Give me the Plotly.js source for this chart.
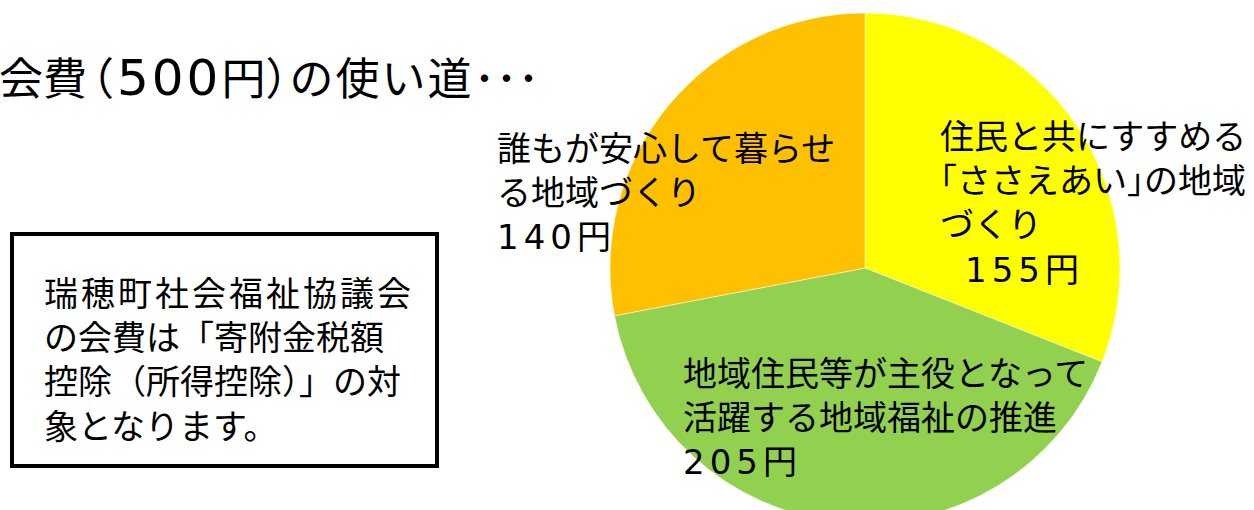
<!DOCTYPE html>
<html>
<head>
<meta charset="utf-8">
<script src="https://cdn.plot.ly/plotly-3.0.1.min.js"></script>
<style>
html,body{margin:0;padding:0;background:#fff;overflow:hidden;width:1254px;height:510px;}
#chart{width:1254px;height:540px;}
</style>
</head>
<body>
<div id="chart"></div>
<script>
const titleText = "会<span style='letter-spacing:-17px'>費</span><span style='letter-spacing:3px'>（</span><span style='font-family:DejaVu Sans;font-size:50px;letter-spacing:3px'>500</span>円<span style='letter-spacing:-20px'>）</span><span style='letter-spacing:2px'>の使い道</span>･･･";
const noteLines = [
  "<span style='letter-spacing:3px'>瑞穂町社会福祉協議会</span>",
  "の会費は「寄附金税額",
  "控除（所得控除）」の対",
  "象となります。"
];
const categories = [
  "住民と共にすすめる<br>｢ささえあい｣の地域<br>づくり",
  "地域住民等が主役となって<br>活躍する地域福祉の推進",
  "誰もが安心して暮らせ<br>る地域づくり"
];
const amounts = [155, 205, 140];
const unit = "円";
const sliceColors = ["#FFFF00", "#92D050", "#FFC000"];

const W = 1254, H = 540;
const px = x => x / W;
const py = y => 1 - y / H;
const FONT = "Noto Sans CJK JP, Noto Sans, sans-serif";
const money = v => "<span style='font-family:DejaVu Sans;font-size:34px;letter-spacing:5px'>" + v + "</span>" + unit;

const data = [{
  type: "pie",
  values: amounts,
  labels: categories,
  marker: {colors: sliceColors, line: {color: "#ffffff", width: 0.5}},
  sort: false,
  direction: "clockwise",
  rotation: 0,
  textinfo: "none",
  hoverinfo: "skip",
  showlegend: false,
  domain: {x: [px(610), px(1120)], y: [py(523), py(13)]}
}];

const labelFont = {family: FONT, size: 34, color: "#000"};
const annotations = [
  {text: titleText, x: px(-3), y: py(76), xanchor: "left", yanchor: "middle",
   font: {family: FONT, size: 44, color: "#000"}},
  {text: noteLines.join("<br>"), x: px(42), y: py(358), xanchor: "left", yanchor: "middle", align: "left",
   font: {family: FONT, size: 34, color: "#000"}},
  // yellow slice label
  {text: categories[0], x: px(938), y: py(178), xanchor: "left", yanchor: "middle", align: "left", font: labelFont},
  {text: money(amounts[0]), x: px(963), y: py(268), xanchor: "left", yanchor: "middle", align: "left", font: labelFont},
  // green slice label
  {text: categories[1] + "<br>" + money(amounts[1]), x: px(681), y: py(415), xanchor: "left", yanchor: "middle", align: "left", font: labelFont},
  // orange slice label
  {text: categories[2] + "<br>" + money(amounts[2]), x: px(495), y: py(190), xanchor: "left", yanchor: "middle", align: "left", font: labelFont}
].map(a => Object.assign({xref: "paper", yref: "paper", showarrow: false}, a));

const layout = {
  width: W, height: H,
  margin: {l: 0, r: 0, t: 0, b: 0},
  paper_bgcolor: "#ffffff",
  plot_bgcolor: "#ffffff",
  showlegend: false,
  annotations: annotations,
  shapes: [{
    type: "rect", xref: "paper", yref: "paper",
    x0: px(12), x1: px(437), y0: py(234), y1: py(466),
    line: {color: "#000", width: 4}, fillcolor: "rgba(0,0,0,0)"
  }]
};

Plotly.newPlot("chart", data, layout, {displayModeBar: false, staticPlot: true});
</script>
</body>
</html>
